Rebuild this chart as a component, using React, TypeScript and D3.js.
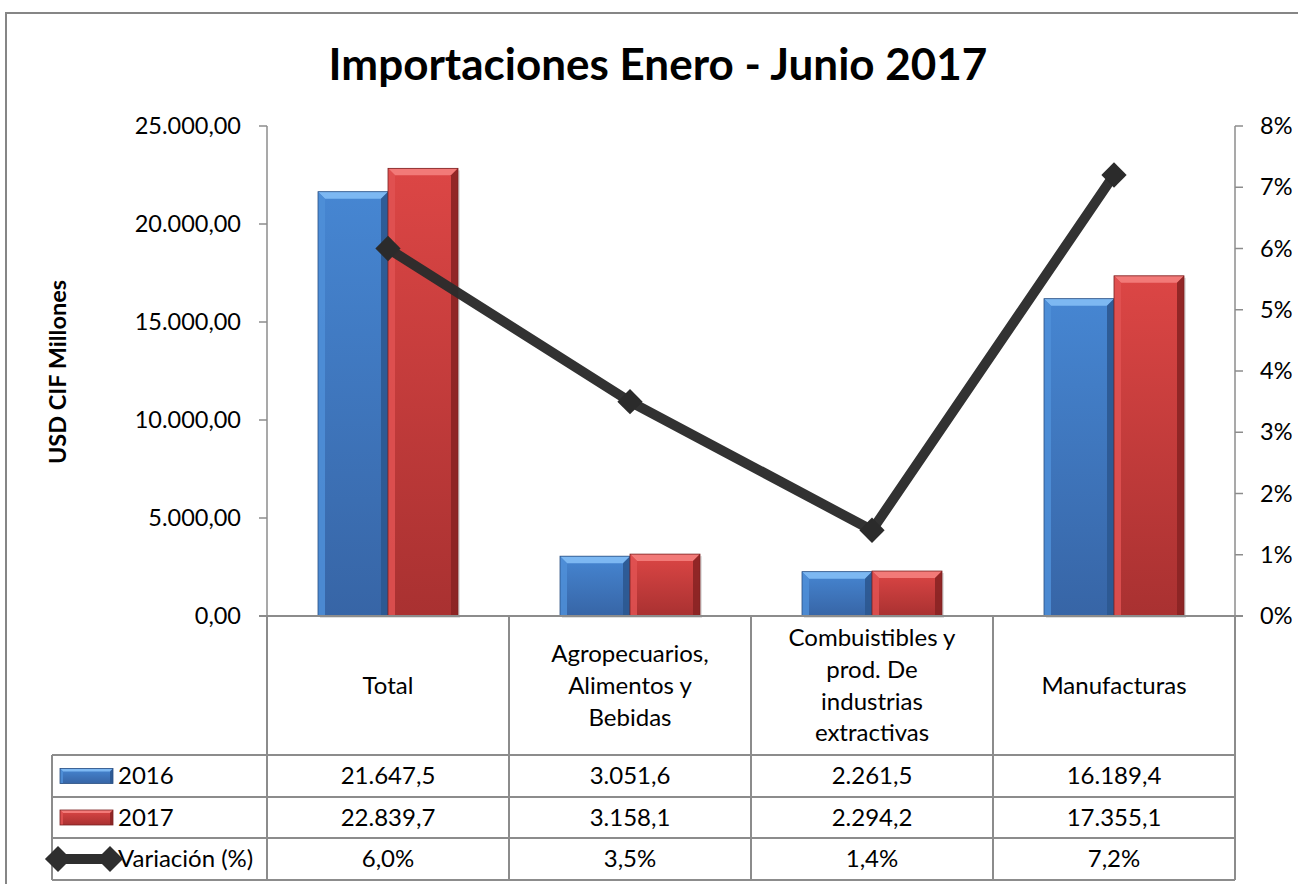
import React from "react";
import * as d3 from "d3";

const categories = ["Total", "Agropecuarios, Alimentos y Bebidas", "Combuistibles y prod. De industrias extractivas", "Manufacturas"];
const categoryLines = [["Total"], ["Agropecuarios,", "Alimentos y", "Bebidas"], ["Combuistibles y", "prod. De", "industrias", "extractivas"], ["Manufacturas"]];
const series = ["2016", "2017"];
const values2016 = [21647.5, 3051.6, 2261.5, 16189.4];
const values2017 = [22839.7, 3158.1, 2294.2, 17355.1];
const variacion = [0.06, 0.035, 0.014, 0.072];
const leftTicks = [0, 5000, 10000, 15000, 20000, 25000];
const rightTicks = [0, 0.01, 0.02, 0.03, 0.04, 0.05, 0.06, 0.07, 0.08];
const title = "Importaciones Enero - Junio 2017";
const yTitle = "USD CIF Millones";
const lineLabel = "Variación (%)";

const FONT = "Lato, 'Liberation Sans', Arial, sans-serif";
const locale = d3.formatLocale({ decimal: ",", thousands: ".", grouping: [3], currency: ["", ""] });
const fmtTick = locale.format(",.2f");
const fmtVal = locale.format(",.1f");
const fmtPct = locale.format(".1%");
const fmtPctAxis = locale.format(".0%");

const palette = {
  blue: { top: "#7db8f2", mainA: "#4686d2", mainB: "#3765a6", left: "#4f8fd8", right: "#2c5890", edge: "#2a4f82" },
  red: { top: "#f27a78", mainA: "#dc4645", mainB: "#a93131", left: "#e05252", right: "#8a2323", edge: "#7a2222" },
};

function BevelRect({ x, y, w, h, c, id, b }: any) {
  const bb = Math.min(b, w / 2, h / 2);
  return (
    <g>
      <rect x={x} y={y} width={w} height={h} fill={`url(#${id})`} />
      <polygon points={`${x},${y} ${x + w},${y} ${x + w - bb},${y + bb} ${x + bb},${y + bb}`} fill={c.top} />
      <polygon points={`${x},${y} ${x + bb},${y + bb} ${x + bb},${y + h} ${x},${y + h}`} fill={c.left} opacity={0.85} />
      <polygon points={`${x + w},${y} ${x + w - bb},${y + bb} ${x + w - bb},${y + h} ${x + w},${y + h}`} fill={c.right} opacity={0.9} />
      <rect x={x} y={y} width={w} height={h} fill="none" stroke={c.edge} strokeWidth={0.8} />
    </g>
  );
}

export default function App() {
  const W = 1298, H = 884;
  const plotL = 267, plotR = 1235, plotT = 126, plotB = 616;
  const tableL = 52;
  const rowYs = [755, 797, 838, 880];
  const yL = d3.scaleLinear().domain([0, 25000]).range([plotB, plotT]);
  const yR = d3.scaleLinear().domain([0, 0.08]).range([plotB, plotT]);
  const x = d3.scaleBand().domain(categories).range([plotL, plotR]).padding(0);
  const groupW = 140;
  const xs = d3.scaleBand().domain(series).range([0, groupW]).padding(0);
  const cx = (c: string) => (x(c) as number) + x.bandwidth() / 2;
  const seriesVals = [values2016, values2017];
  const seriesCol = [palette.blue, palette.red];
  const line = d3.line<number>().x((_, i) => cx(categories[i])).y((d) => yR(d));
  const diamond = d3.symbol().type(d3.symbolSquare).size(320)();
  const legendDiamond = d3.symbol().type(d3.symbolSquare).size(340)();
  const grid = "#8c8c8c";
  const rowMid = (i: number) => (rowYs[i] + rowYs[i + 1]) / 2;
  const fs = 24;

  return (
    <svg width={W} height={H} style={{ position: "absolute", left: 0, top: 0, background: "#fff" }} fontFamily={FONT}>
      <defs>
        {series.map((s, i) => (
          <linearGradient key={s} id={`g${s}`} x1="0" y1="0" x2="0" y2="1">
            <stop offset="0" stopColor={seriesCol[i].mainA} />
            <stop offset="1" stopColor={seriesCol[i].mainB} />
          </linearGradient>
        ))}
      </defs>
      <rect x={6} y={13} width={1400} height={1000} fill="#fff" stroke="#868686" strokeWidth={2} />
      <text x={658} y={80} textAnchor="middle" fontSize={44} fontWeight="bold" fill="#000">{title}</text>
      <text transform={`translate(66,372) rotate(-90)`} textAnchor="middle" fontSize={23.5} fontWeight="bold" fill="#000">{yTitle}</text>

      {/* bars */}
      {categories.map((c, ci) => (
        <g key={c}>
          {series.map((s, si) => {
            const bx = cx(c) - groupW / 2 + (xs(s) as number);
            const by = yL(seriesVals[si][ci]);
            return (
              <g key={s}>
                <rect x={bx + 2} y={by + 2} width={xs.bandwidth()} height={plotB - by} fill="#000" opacity={0.12} />
                <BevelRect x={bx} y={by} w={xs.bandwidth()} h={plotB - by} c={seriesCol[si]} id={`g${s}`} b={7} />
              </g>
            );
          })}
        </g>
      ))}

      {/* left axis */}
      <line x1={plotL} x2={plotL} y1={plotT} y2={plotB} stroke={grid} strokeWidth={1.5} />
      {leftTicks.map((t) => (
        <g key={t}>
          <line x1={plotL - 8} x2={plotL} y1={yL(t)} y2={yL(t)} stroke={grid} strokeWidth={1.5} />
          <text x={plotL - 26} y={yL(t)} dy="0.35em" textAnchor="end" fontSize={23.5} fill="#000">{fmtTick(t)}</text>
        </g>
      ))}
      {/* right axis */}
      <line x1={plotR} x2={plotR} y1={plotT} y2={plotB} stroke={grid} strokeWidth={1.5} />
      {rightTicks.map((t) => (
        <g key={t}>
          <line x1={plotR} x2={plotR + 8} y1={yR(t)} y2={yR(t)} stroke={grid} strokeWidth={1.5} />
          <text x={plotR + 25} y={yR(t)} dy="0.35em" textAnchor="start" fontSize={23.5} fill="#000">{fmtPctAxis(t)}</text>
        </g>
      ))}
      {/* category axis */}
      <line x1={plotL - 8} x2={plotR + 8} y1={plotB} y2={plotB} stroke={grid} strokeWidth={2} />

      {/* data table */}
      {d3.range(categories.length + 1).map((i) => {
        const xx = i < categories.length ? (x(categories[i]) as number) : plotR;
        return <line key={i} x1={xx} x2={xx} y1={plotB} y2={rowYs[3]} stroke={grid} strokeWidth={2} />;
      })}
      <line x1={tableL} x2={tableL} y1={rowYs[0]} y2={rowYs[3]} stroke={grid} strokeWidth={2} />
      {rowYs.map((ry) => (
        <line key={ry} x1={tableL} x2={plotR} y1={ry} y2={ry} stroke={grid} strokeWidth={2} />
      ))}
      {categories.map((c, ci) => {
        const lines = categoryLines[ci];
        const mid = (plotB + rowYs[0]) / 2;
        const lh = 31.7;
        return (
          <g key={c}>
            {lines.map((l, li) => (
              <text key={li} x={cx(c)} y={mid + (li - (lines.length - 1) / 2) * lh} dy="0.35em" textAnchor="middle" fontSize={fs} fill="#000">{l}</text>
            ))}
            <text x={cx(c)} y={rowMid(0)} dy="0.35em" textAnchor="middle" fontSize={fs} fill="#000">{fmtVal(values2016[ci])}</text>
            <text x={cx(c)} y={rowMid(1)} dy="0.35em" textAnchor="middle" fontSize={fs} fill="#000">{fmtVal(values2017[ci])}</text>
            <text x={cx(c)} y={rowMid(2)} dy="0.35em" textAnchor="middle" fontSize={fs} fill="#000">{fmtPct(variacion[ci])}</text>
          </g>
        );
      })}
      {/* legend keys */}
      {series.map((s, si) => (
        <g key={s}>
          <BevelRect x={60} y={rowMid(si) - 7.5} w={53} h={15} c={seriesCol[si]} id={`g${s}`} b={3} />
          <text x={118} y={rowMid(si)} dy="0.35em" fontSize={fs} fill="#000">{s}</text>
        </g>
      ))}
      <text x={118} y={rowMid(2)} dy="0.35em" fontSize={fs} fill="#000">{lineLabel}</text>
      <line x1={58} x2={110} y1={rowMid(2)} y2={rowMid(2)} stroke="#2e2e2e" strokeWidth={10} />
      {[58, 110].map((lx) => (
        <path key={lx} d={legendDiamond as string} transform={`translate(${lx},${rowMid(2)}) rotate(45)`} fill="#2e2e2e" />
      ))}

      {/* line series */}
      <path d={line(variacion) as string} fill="none" stroke="#2b2b2b" strokeWidth={10} strokeLinejoin="round" opacity={0.97} />
      {variacion.map((v, i) => (
        <path key={i} d={diamond as string} transform={`translate(${cx(categories[i])},${yR(v)}) rotate(45)`} fill="#2b2b2b" />
      ))}
    </svg>
  );
}
